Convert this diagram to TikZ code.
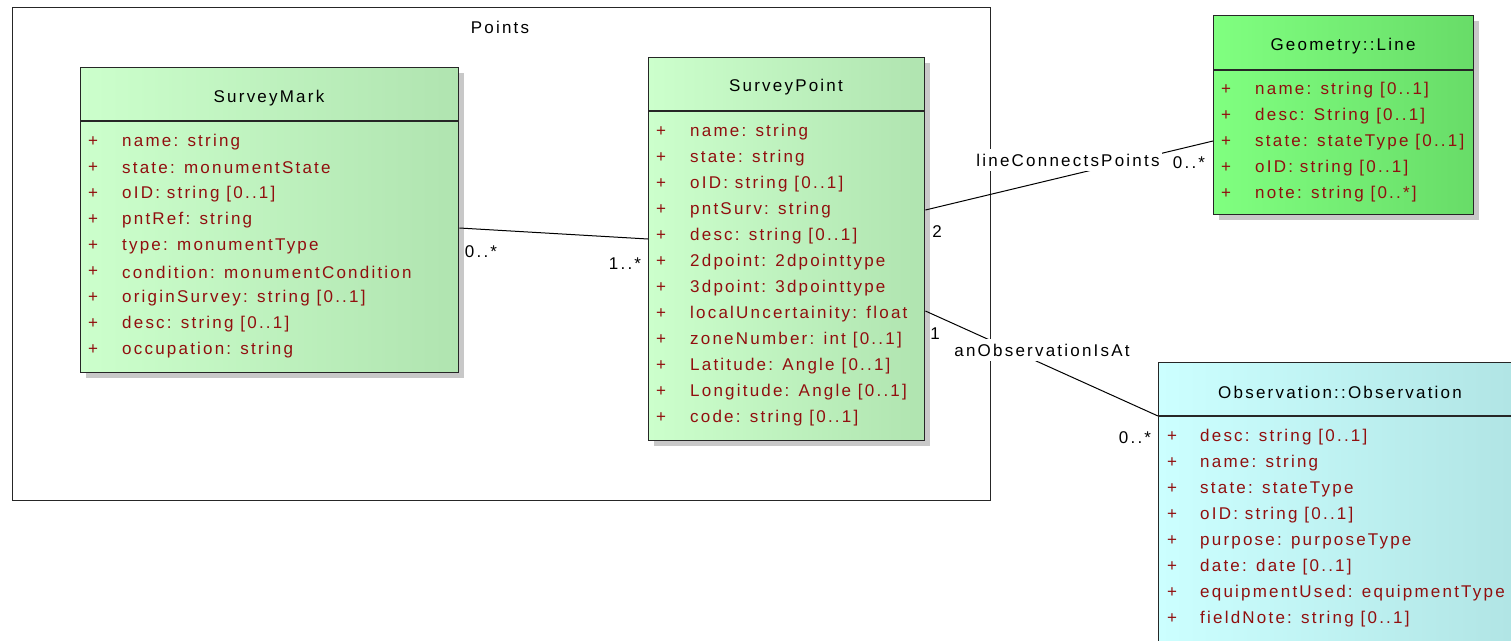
\documentclass[tikz,border=0pt]{standalone}
\usepackage{fontspec}
\setmainfont{Liberation Sans}[LetterSpace=13]
\usetikzlibrary{calc}
\definecolor{attrred}{RGB}{145,15,15}
\definecolor{smL}{RGB}{204,255,204}
\definecolor{smR}{RGB}{176,228,176}
\definecolor{glL}{RGB}{128,255,128}
\definecolor{glR}{RGB}{104,220,104}
\definecolor{obL}{RGB}{204,255,255}
\definecolor{obR}{RGB}{176,228,228}
\definecolor{shade}{RGB}{200,200,200}
\begin{document}
\begin{tikzpicture}[x=1pt,y=-1pt,
  every node/.style={font=\fontsize{17}{20}\selectfont, inner sep=0pt},
  cls/.style={draw=black!85, line width=1.4pt, anchor=north west, inner sep=0pt},
  shadowbox/.style={fill=shade, draw=none},
  attr/.style={anchor=west, text=attrred},
  plus/.style={anchor=center, text=attrred},
  title/.style={anchor=center, text=black},
  assoc/.style={draw=black, line width=1pt},
  lbl/.style={fill=white, inner xsep=2pt, inner ysep=5pt},
  mult/.style={anchor=center, text=black}
]
\useasboundingbox (0,0) rectangle (1511,640);
\clip (0,0) rectangle (1511,640);

% package
\node[draw=black!85, line width=1.4pt, anchor=north west, minimum width=978pt, minimum height=493pt] (pkg) at (12,7) {};
\node[title] (pkgt) at (500,27) {Points};

% shadows
\path[shadowbox] (86,73) rectangle (464,378);
\path[shadowbox] (654,63) rectangle (930,446);
\path[shadowbox] (1219,21) rectangle (1479,220);

% SurveyMark
\node[cls, minimum width=378pt, minimum height=305pt, left color=smL, middle color=smL, right color=smR] (sm) at (80,67) {};
\draw[draw=black!85, line width=1.4pt] ([yshift=-54pt]sm.north west) -- ([yshift=-54pt]sm.north east);
\node[title] (smt) at (269,98) {SurveyMark};
\foreach \txt [count=\i] in {name: string, state: monumentState, oID: string [0..1], pntRef: string, type: monumentType, condition: monumentCondition, originSurvey: string [0..1], desc: string [0..1], occupation: string}{
  \node[plus] (smp\i) at (93,{142+26*(\i-1)}) {+};
  \node[attr] (sma\i) at (122,{142+26*(\i-1)}) {\txt};
}

% SurveyPoint
\node[cls, minimum width=276pt, minimum height=383pt, left color=smL, middle color=smL, right color=smR] (sp) at (648,57) {};
\draw[draw=black!85, line width=1.4pt] ([yshift=-54pt]sp.north west) -- ([yshift=-54pt]sp.north east);
\node[title] (spt) at (786,87) {SurveyPoint};
\foreach \txt [count=\i] in {name: string, state: string, oID: string [0..1], pntSurv: string, desc: string [0..1], 2dpoint: 2dpointtype, 3dpoint: 3dpointtype, localUncertainity: float, zoneNumber: int [0..1], Latitude: Angle [0..1], Longitude: Angle [0..1], code: string [0..1]}{
  \node[plus] (spp\i) at (661,{132+26*(\i-1)}) {+};
  \node[attr] (spa\i) at (690,{132+26*(\i-1)}) {\txt};
}

% Geometry::Line
\node[cls, minimum width=260pt, minimum height=199pt, left color=glL, middle color=glL, right color=glR] (gl) at (1213,15) {};
\draw[draw=black!85, line width=1.4pt] ([yshift=-55pt]gl.north west) -- ([yshift=-55pt]gl.north east);
\node[title] (glt) at (1343,46) {Geometry::Line};
\foreach \txt [count=\i] in {name: string [0..1], desc: String [0..1], state: stateType [0..1], oID: string [0..1], note: string [0..*]}{
  \node[plus] (glp\i) at (1226,{90+26*(\i-1)}) {+};
  \node[attr] (gla\i) at (1255,{90+26*(\i-1)}) {\txt};
}

% Observation::Observation
\node[cls, minimum width=364pt, minimum height=300pt, left color=obL, middle color=obL, right color=obR] (ob) at (1158,362) {};
\draw[draw=black!85, line width=1.4pt] ([yshift=-54pt]ob.north west) -- ([yshift=-54pt]ob.north east);
\node[title] (obt) at (1340,392) {Observation::Observation};
\foreach \txt [count=\i] in {desc: string [0..1], name: string, state: stateType, oID: string [0..1], purpose: purposeType, date: date [0..1], equipmentUsed: equipmentType, fieldNote: string [0..1]}{
  \node[plus] (obp\i) at (1172,{437+26*(\i-1)}) {+};
  \node[attr] (oba\i) at (1200,{437+26*(\i-1)}) {\txt};
}

% connectors
\draw[assoc] (sm.east |- 0,228) -- (sp.west |- 0,239);
\draw[assoc] (sp.east |- 0,210) -- (gl.west |- 0,141);
\draw[assoc] (sp.east |- 0,311) -- (ob.west |- 0,416);

% connector labels
\node[lbl] (l1) at (1068,160) {lineConnectsPoints};
\node[lbl] (l2) at (1042,350) {anObservationIsAt};
\node[mult] (m1) at (481,252) {0..*};
\node[mult] (m2) at (625,264) {1..*};
\node[mult] (m3) at (937,232) {2};
\node[mult] (m4) at (1189,163) {0..*};
\node[mult] (m5) at (935,334) {1};
\node[mult] (m6) at (1135,438) {0..*};
\end{tikzpicture}
\end{document}
